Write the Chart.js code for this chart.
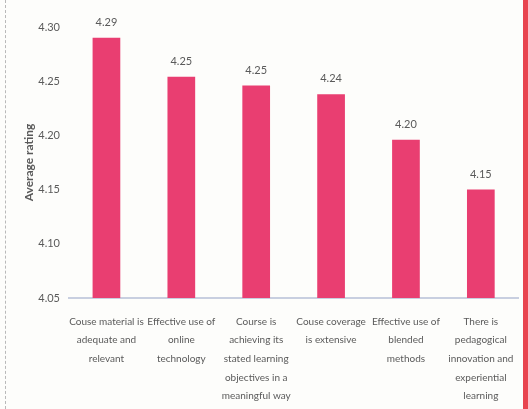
<!DOCTYPE html>
<html lang="en">
<head>
    <meta charset="UTF-8">
    <title>Average rating</title>
    <script src="https://cdn.jsdelivr.net/npm/chart.js"></script>
    <style>
        html, body {
            margin: 0;
            padding: 0;
            background: #fdfdfb;
        }
        .wrap {
            position: relative;
            width: 528px;
            height: 409px;
        }
        .wrap:before {
            content: "";
            position: absolute;
            left: 5px;
            top: 0;
            height: 409px;
            border-left: 1px dashed #b9b9b9;
        }
        .wrap:after {
            content: "";
            position: absolute;
            right: 0;
            top: 0;
            width: 5px;
            height: 409px;
            background: #e8444f;
        }
    </style>
</head>
<body>
    <div class="wrap">
        <canvas id="ratingChart" width="528" height="409"></canvas>
    </div>

    <script>
        // data
        const categories = [
            ['Couse material is', 'adequate and', 'relevant'],
            ['Effective use of', 'online', 'technology'],
            ['Course is', 'achieving its', 'stated learning', 'objectives in a', 'meaningful way'],
            ['Couse coverage', 'is extensive'],
            ['Effective use of', 'blended', 'methods'],
            ['There is', 'pedagogical', 'innovation and', 'experiential', 'learning']
        ];
        const ratings = [4.29, 4.254, 4.246, 4.238, 4.196, 4.15];
        const yTicks = [4.05, 4.10, 4.15, 4.20, 4.25, 4.30];

        const barColor = '#e93e71';
        const textColor = '#5a5a5a';
        const fontName = "Lato, 'Open Sans', sans-serif";

        // value labels above bars
        const valueLabels = {
            id: 'valueLabels',
            afterDatasetsDraw(chart) {
                const c = chart.ctx;
                const meta = chart.getDatasetMeta(0);
                c.save();
                c.fillStyle = textColor;
                c.font = '11px ' + fontName;
                c.textAlign = 'center';
                c.textBaseline = 'bottom';
                meta.data.forEach((bar, i) => {
                    c.fillText(ratings[i].toFixed(2), bar.x, bar.y - 10);
                });
                c.restore();
            }
        };

        const ctx = document.getElementById('ratingChart').getContext('2d');
        new Chart(ctx, {
            type: 'bar',
            data: {
                labels: categories,
                datasets: [{
                    label: 'Average rating',
                    data: ratings,
                    backgroundColor: barColor,
                    barPercentage: 0.74,
                    categoryPercentage: 0.5
                }]
            },
            options: {
                responsive: false,
                animation: false,
                layout: {
                    padding: { left: 22, right: 7, top: 27, bottom: 0 }
                },
                plugins: {
                    legend: { display: false },
                    tooltip: { enabled: false }
                },
                scales: {
                    x: {
                        afterFit(axis) {
                            axis.height = 111;
                        },
                        grid: { display: false, drawTicks: false },
                        border: { color: '#c8cfe0', width: 2 },
                        ticks: {
                            color: textColor,
                            font: { family: fontName, size: 10, lineHeight: 1.87 },
                            maxRotation: 0,
                            autoSkip: false,
                            padding: 14
                        }
                    },
                    y: {
                        min: 4.05,
                        max: 4.30,
                        afterBuildTicks(axis) {
                            axis.ticks = yTicks.map(v => ({ value: v }));
                        },
                        afterFit(axis) {
                            axis.width = 47;
                        },
                        grid: { display: false, drawTicks: false },
                        border: { display: false },
                        title: {
                            display: true,
                            text: 'Average rating',
                            color: textColor,
                            font: { family: fontName, size: 12, weight: 'bold' },
                            padding: { top: 0, bottom: 2 }
                        },
                        ticks: {
                            color: textColor,
                            font: { family: fontName, size: 11 },
                            padding: 9,
                            callback: v => Number(v).toFixed(2)
                        }
                    }
                }
            },
            plugins: [valueLabels]
        });
    </script>
</body>
</html>
